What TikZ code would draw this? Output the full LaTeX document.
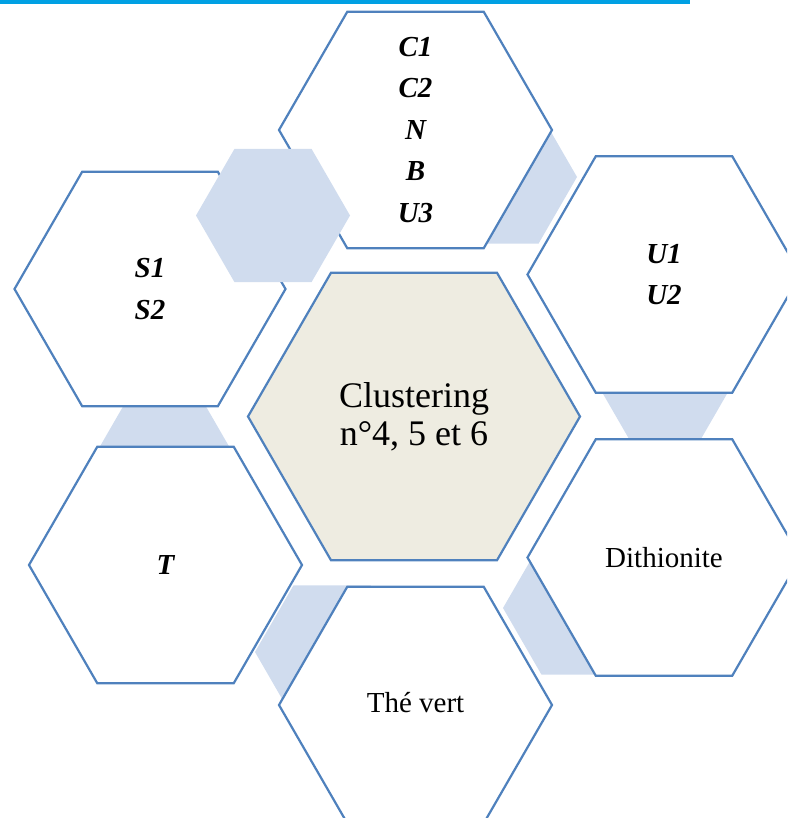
\documentclass[tikz,border=0pt]{standalone}
\usepackage{fontspec}
\setmainfont{Liberation Serif}
\usepackage{xcolor}
\usepackage{tikz}
\usetikzlibrary{shapes.geometric}
\definecolor{hexline}{RGB}{79,129,189}
\definecolor{hexcore}{RGB}{238,236,225}
\definecolor{hexlink}{RGB}{208,220,238}
\definecolor{toprule}{RGB}{0,160,227}

\begin{document}
\begin{tikzpicture}[
x=1pt, y=-1pt,
hexbox/.style={regular polygon, regular polygon sides=6, draw=hexline, line width=2.2pt, fill=white, minimum size=273pt, inner sep=0pt},
core/.style={hexbox, fill=hexcore, minimum size=332pt},
link/.style={regular polygon, regular polygon sides=6, fill=hexlink, minimum size=154pt, inner sep=0pt},
code/.style={align=center, font=\fontsize{29}{41.5}\selectfont\bfseries\itshape},
plain/.style={align=center, font=\fontsize{29}{34}\selectfont},
big/.style={align=center, font=\fontsize{36}{38}\selectfont}
]
\useasboundingbox (0,0) rectangle (787,818);
\clip (0,0) rectangle (787,818);

% rule on top of the page
\fill[toprule] (0,0) rectangle (690,4);

% small hexagons behind
\node[link] (l1) at (500,177) {};
\node[link, minimum size=140pt] (l2) at (665,380) {};
\node[link] (l3) at (580,608) {};
\node[link] (l4) at (332,652) {};
\node[link] (l5) at (164.5,468) {};

% outer ring
\node[hexbox] (chem) at (415.5,130) {};
\node[hexbox] (uu) at (664,274.5) {};
\node[hexbox] (dith) at (664,557.5) {};
\node[hexbox] (the) at (415.5,705) {};
\node[hexbox] (tt) at (165.5,565) {};
\node[hexbox, minimum size=271pt] (ss) at (150,289) {};

% centre
\node[core] (clust) at (414,416.5) {};

% small hexagon in front
\node[link] (l0) at (273,215.5) {};

% texts
\node[code] (chem-t) at (chem.center) {C1\\C2\\N\\B\\U3};
\node[code] (uu-t) at (uu.center) {U1\\U2};
\node[plain] (dith-t) at (dith.center) {Dithionite};
\node[plain] (the-t) at ([yshift=2pt]the.center) {Thé vert};
\node[code] (tt-t) at (tt.center) {T};
\node[code] (ss-t) at (ss.center) {S1\\S2};
\node[big] (clust-t) at (clust.center) {Clustering\\n°4, 5 et 6};
\end{tikzpicture}
\end{document}
